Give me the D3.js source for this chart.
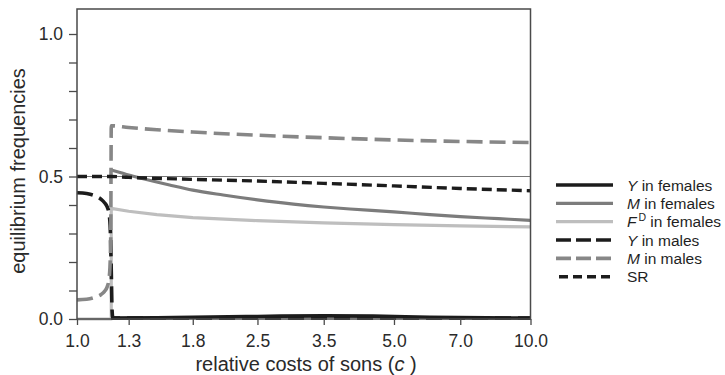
<!DOCTYPE html>
<html>
<head>
<meta charset="utf-8">
<script src="https://cdn.jsdelivr.net/npm/d3@7"></script>
<style>
  html, body { margin: 0; padding: 0; background: #fff; }
  svg { display: block; font-family: "Liberation Sans", Arial, Helvetica, sans-serif; }
</style>
</head>
<body>
<svg id="chart" width="725" height="375"></svg>
<script>
// Relative costs of sons (c) and equilibrium frequencies for each branch
const xTicks = [1.0, 1.3, 1.8, 2.5, 3.5, 5.0, 7.0, 10.0];
const yTicks = [0, 0.1, 0.2, 0.3, 0.4, 0.5, 0.6, 0.7, 0.8, 0.9, 1.0];
const yLabelled = [0, 0.5, 1.0];

// Y in females (appears after the transition)
const yFemC = [1.19, 1.5, 1.8, 2.5, 3.5, 4.5, 6.0, 8.0, 10.0];
const yFemV = [0.003, 0.004, 0.006, 0.009, 0.011, 0.01, 0.006, 0.004, 0.003];

// M in females
const mFemC = [1.19, 1.25, 1.3, 1.4, 1.6, 1.8, 2.1, 2.5, 3.0, 3.5, 4.0, 5.0, 6.0, 7.0, 8.5, 10.0];
const mFemV = [0.523, 0.513, 0.505, 0.492, 0.47, 0.452, 0.435, 0.418, 0.403, 0.393, 0.386, 0.376, 0.366, 0.359, 0.352, 0.346];

// F^D in females
const fdFemC = [1.0, 1.19, 1.19, 1.3, 1.5, 1.8, 2.5, 3.5, 5.0, 7.0, 10.0];
const fdFemV = [0.0, 0.0, 0.388, 0.378, 0.366, 0.356, 0.345, 0.337, 0.331, 0.327, 0.323];

// Y in males
const yMalC = [1.0, 1.05, 1.1, 1.13, 1.15, 1.165, 1.175, 1.183, 1.19, 1.195, 1.2, 2.0, 5.0, 10.0];
const yMalV = [0.443, 0.44, 0.431, 0.42, 0.408, 0.394, 0.375, 0.33, 0.17, 0.03, 0.003, 0.003, 0.003, 0.003];

// M in males
const mMalC = [1.0, 1.05, 1.1, 1.13, 1.15, 1.165, 1.175, 1.182, 1.187, 1.19, 1.3, 1.5, 1.8, 2.76, 3.5, 5.09, 7.0, 10.0];
const mMalV = [0.067, 0.069, 0.077, 0.086, 0.097, 0.112, 0.135, 0.18, 0.3, 0.678, 0.672, 0.664, 0.656, 0.642, 0.636, 0.628, 0.623, 0.619];

// Sex ratio
const srC = [1.0, 1.19, 1.3, 1.8, 2.5, 3.5, 5.0, 7.0, 10.0];
const srV = [0.5, 0.5, 0.497, 0.49, 0.484, 0.476, 0.467, 0.458, 0.45];

const series = [
  { key: "fd",  c: fdFemC, v: fdFemV, color: "#bebebe", width: 3.2, dash: null },
  { key: "mf",  c: mFemC,  v: mFemV,  color: "#7c7c7c", width: 3.2, dash: null },
  { key: "yf",  c: yFemC,  v: yFemV,  color: "#1c1c1c", width: 3.6, dash: null },
  { key: "ym",  c: yMalC,  v: yMalV,  color: "#1c1c1c", width: 3.6, dash: "16,7" },
  { key: "mm",  c: mMalC,  v: mMalV,  color: "#878787", width: 3.6, dash: "16,7" },
  { key: "sr",  c: srC,    v: srV,    color: "#1c1c1c", width: 3.4, dash: "10,5" }
];

const legendItems = [
  { sym: "Y", sup: null, rest: " in females", color: "#1c1c1c", dash: null, width: 3.6 },
  { sym: "M", sup: null, rest: " in females", color: "#7c7c7c", dash: null, width: 3.2 },
  { sym: "F", sup: "D",  rest: " in females", color: "#bebebe", dash: null, width: 3.2 },
  { sym: "Y", sup: null, rest: " in males",   color: "#1c1c1c", dash: "15,5", width: 3.6 },
  { sym: "M", sup: null, rest: " in males",   color: "#878787", dash: "15,5", width: 3.6 },
  { sym: null, sup: null, rest: "SR",         color: "#1c1c1c", dash: "9,5", width: 3.4 }
];

const svg = d3.select("#chart");
const mLeft = 77, mRight = 530.5, mTop = 9, mBottom = 319;

const x = d3.scaleLog().domain([1, 10]).range([mLeft, mRight]);
const y = d3.scaleLinear().domain([0, 1]).range([mBottom, mBottom - 285]);

const plot = svg.append("g");

// thin reference line at one half
plot.append("line")
  .attr("x1", x(1)).attr("x2", x(10))
  .attr("y1", y(0.5)).attr("y2", y(0.5))
  .attr("stroke", "#777").attr("stroke-width", 1);

const line = d3.line().x(d => x(d[0])).y(d => y(d[1])).curve(d3.curveMonotoneX);
const lineLin = d3.line().x(d => x(d[0])).y(d => y(d[1]));

series.forEach(s => {
  const pts = s.c.map((c, i) => [c, s.v[i]]);
  // series with a vertical jump are drawn with straight segments
  const gen = (s.key === "fd") ? lineLin : line;
  plot.append("path")
    .attr("d", gen(pts))
    .attr("fill", "none")
    .attr("stroke", s.color)
    .attr("stroke-width", s.width)
    .attr("stroke-dasharray", s.dash)
    .attr("stroke-linejoin", "round");
});

// frame
svg.append("rect")
  .attr("x", mLeft).attr("y", mTop)
  .attr("width", mRight - mLeft).attr("height", mBottom - mTop)
  .attr("fill", "none").attr("stroke", "#4a4a4a").attr("stroke-width", 1.5);

// y axis
const yAxis = d3.axisLeft(y).tickValues(yTicks).tickSize(8).tickPadding(6)
  .tickFormat(d => yLabelled.some(v => Math.abs(v - d) < 1e-9) ? d3.format(".1f")(d) : "");
const gy = svg.append("g").attr("transform", `translate(${mLeft},0)`).call(yAxis);
gy.select(".domain").remove();
gy.selectAll(".tick line").attr("stroke", "#4a4a4a").attr("stroke-width", 1.3);
gy.selectAll(".tick text").attr("font-size", 17.5).attr("fill", "#2a2a2a");
gy.attr("font-family", null);

// x axis
const xAxis = d3.axisBottom(x).tickValues(xTicks).tickSize(6).tickPadding(10)
  .tickFormat(d3.format(".1f"));
const gx = svg.append("g").attr("transform", `translate(0,${mBottom})`).call(xAxis);
gx.select(".domain").remove();
gx.selectAll(".tick line").attr("stroke", "#4a4a4a").attr("stroke-width", 1.3);
gx.selectAll(".tick text").attr("font-size", 17.5).attr("fill", "#2a2a2a");
gx.attr("font-family", null);

// axis titles
svg.append("text")
  .attr("transform", `translate(25,171) rotate(-90)`)
  .attr("text-anchor", "middle")
  .attr("font-size", 20).attr("fill", "#2a2a2a")
  .text("equilibrium frequencies");

const xt = svg.append("text")
  .attr("x", 306).attr("y", 371)
  .attr("text-anchor", "middle")
  .attr("font-size", 20).attr("fill", "#2a2a2a");
xt.append("tspan").text("relative costs of sons (");
xt.append("tspan").attr("font-style", "italic").text("c");
xt.append("tspan").text(" )");

// legend
const lg = svg.append("g");
legendItems.forEach((it, i) => {
  const yy = 185 + i * 18.35;
  lg.append("line")
    .attr("x1", it.dash === "9,5" ? 559 : 556).attr("x2", 613)
    .attr("y1", yy).attr("y2", yy)
    .attr("stroke", it.color).attr("stroke-width", it.width)
    .attr("stroke-dasharray", it.dash);
  const t = lg.append("text")
    .attr("x", 627).attr("y", yy + 5.5)
    .attr("font-size", 15.5).attr("fill", "#1f1f1f");
  if (it.sym) t.append("tspan").attr("font-style", "italic").text(it.sym);
  if (it.sup) {
    t.append("tspan").attr("dx", 2).attr("dy", -6).attr("font-size", 10.5).text(it.sup);
    t.append("tspan").attr("dy", 6).text(it.rest);
  } else {
    t.append("tspan").text(it.rest);
  }
});
</script>
</body>
</html>
